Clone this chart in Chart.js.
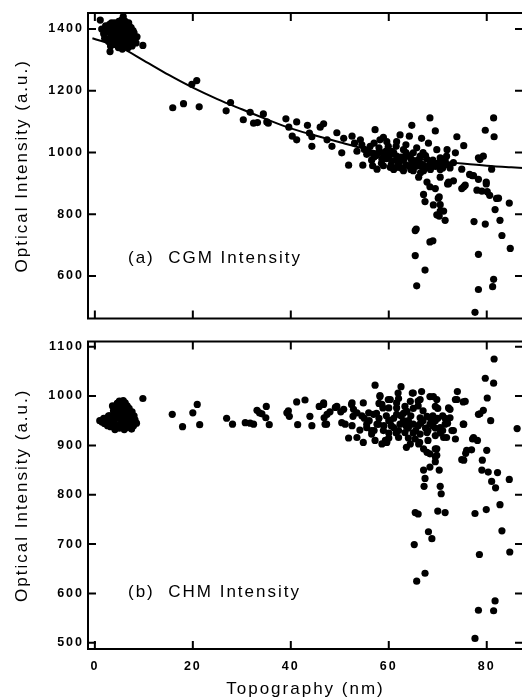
<!DOCTYPE html>
<html><head><meta charset="utf-8">
<script src="https://cdn.jsdelivr.net/npm/chart.js@4.4.1/dist/chart.umd.min.js"></script>
<style>
html,body{margin:0;padding:0;background:#fff;overflow:hidden}
#wrap{position:relative;width:522px;height:700px;overflow:hidden;background:#fff}
canvas{position:absolute;left:0}
#c1{top:0}
#c2{top:330px}
</style></head><body>
<div id="wrap"><canvas id="c1" width="540" height="330"></canvas><canvas id="c2" width="540" height="370"></canvas></div>
<script>
const xTicks = [0, 20, 40, 60, 80];
const topYTicks = [600, 800, 1000, 1200, 1400];
const botYTicks = [500, 600, 700, 800, 900, 1000, 1100];
const xTitle = 'Topography (nm)';
const yTitle = 'Optical Intensity (a.u.)';
const topLabel = '(a)  CGM Intensity';
const botLabel = '(b)  CHM Intensity';

// (a) CGM: dense group near 5 nm
const topClusterX = [1.4,1.8,2.2,2.0,2.6,3.0,3.4,2.8,3.6,4.0,
  4.4,3.8,4.6,5.0,5.4,4.8,5.8,6.2,6.6,6.0,
  7.0,7.4,7.8,8.2,8.6,8.4,7.6,6.8,6.4,5.6,
  5.2,4.2,3.2,2.4,4.6,5.4,6.2,7.0,3.6,4.4,
  5.0,5.8,6.6,7.2,8.0,5.5,5.9,3.9,4.9,6.9,
  2.5,3.2,4.0,4.8,5.6,6.4,7.2,7.8,3.0,4.2,
  5.0,5.8,6.4,4.6,5.4,3.6,2.0,8.0,6.0,5.2,
  4.4,3.4,6.8,7.4];
const topClusterY = [1400,1385,1410,1370,1395,1415,1380,1360,1405,1420,
  1390,1350,1370,1412,1395,1340,1380,1425,1400,1360,
  1410,1385,1395,1370,1375,1355,1350,1340,1345,1335,
  1350,1360,1345,1390,1405,1375,1365,1378,1385,1362,
  1395,1440,1355,1398,1388,1430,1418,1372,1425,1420,
  1405,1398,1400,1395,1400,1385,1365,1380,1370,1375,
  1380,1365,1372,1355,1345,1365,1395,1360,1410,1420,
  1410,1420,1390,1405];
// (a) CGM: other points
const topX = [1.1,3.1,7.6,9.8,15.9,18.1,19.8,20.8,21.3,26.8,
  27.7,30.3,31.7,32.4,34.4,35.1,33.2,35.4,39.0,39.6,
  40.3,41.2,41.2,43.4,43.8,44.3,44.3,46.7,46.0,47.4,
  48.4,49.4,50.8,52.5,50.4,51.8,54.7,56.7,57.2,58.9,
  62.3,64.7,64.2,66.7,68.4,69.5,68.1,73.9,75.3,71.9,
  73.6,78.3,74.9,77.0,75.3,78.0,72.2,70.5,68.4,69.5,
  67.1,67.4,70.1,70.5,70.5,66.1,67.8,63.0,64.0,60.3,
  58.6,61.6,63.0,59.9,56.2,54.5,53.5,55.5,57.9,59.6,
  61.6,65.0,66.4,64.7,67.8,69.1,70.5,71.2,66.4,62.3,
  60.6,58.9,56.9,54.2,58.2,60.6,63.7,65.7,69.8,67.1,
  65.0,61.6,57.6,55.0,56.0,57.0,58.0,59.0,60.0,61.0,
  62.0,63.0,64.0,65.0,66.0,67.0,68.0,69.0,70.0,71.0,
  72.0,60.5,62.5,64.5,66.5,68.5,70.5,58.5,56.5,59.5,
  61.5,63.5,70.3,71.5,71.8,73.2,75.6,74.9,77.3,77.4,
  79.3,79.7,79.9,79.7,78.3,78.3,77.6,81.4,81.5,81.0,
  80.1,81.4,81.2,82.4,82.7,83.1,84.8,84.6,65.4,65.4,
  67.4,65.7,68.4,69.0,69.8,70.3,69.1,72.0,73.2,76.5,
  78.6,79.9,80.6,82.0,65.6,78.3,79.0,81.7,71.2,72.2,
  55.5,57.5,58.5,59.5,60.5,61.5,62.5,63.5,64.5,65.5,
  66.5,67.5,68.5,69.5,70.5,71.5,72.5,61.0,63.5,67.0,
  53.0,57.0];
const topY = [1429,1327,1345,1347,1145,1158,1221,1233,1148,1135,
  1162,1106,1130,1095,1125,1099,1097,1095,1109,1082,
  1053,1099,1041,1088,1063,1020,1051,1093,1082,1041,
  1020,1064,1046,1053,999,959,959,957,1074,1049,
  1057,1088,1053,1046,1112,1070,1030,1051,1022,1009,
  999,983,946,925,889,878,899,920,889,883,
  864,841,852,831,810,920,904,941,957,952,
  978,988,1009,1020,1020,1025,1004,994,999,1035,
  1035,999,988,973,978,962,983,967,957,973,
  973,957,994,1041,1041,1004,988,1015,1009,941,
  941,952,946,1010,1000,985,1015,995,985,1000,
  965,975,990,965,975,960,955,975,965,950,
  960,960,950,945,935,945,945,965,975,1005,
  1020,1025,794,780,988,967,894,883,925,776,
  988,1072,904,768,670,556,482,1112,1051,946,
  873,589,565,852,780,731,689,836,747,666,
  619,568,710,714,798,856,830,898,908,929,
  977,898,861,851,752,913,875,815,810,904,
  1005,990,1000,980,995,975,985,960,980,955,
  965,990,965,955,970,975,950,945,1000,1000,
  1030,1030];
// (a) fitted curve
const fitX = [-0.5,5,10,15,20,25,30,35,40,45,50,55,60,65,70,75,80,85,87.4];
const fitY = [1370,1342,1298,1252,1210,1173,1140,1108,1078,1055,1033,1012,995,982,972,964,957,952,950];

// (b) CHM: dense group near 5 nm
const botClusterX = [1.0,1.5,2.0,2.5,3.0,2.2,3.4,3.8,4.2,4.6,
  5.0,5.4,5.8,6.2,6.6,7.0,7.4,7.8,8.2,8.5,
  4.0,4.5,5.0,5.5,6.0,6.5,7.0,7.5,3.6,4.3,
  4.8,5.3,5.8,6.3,6.8,7.2,3.2,4.1,5.6,6.9,
  7.9,2.8,4.6,6.0,
  3.0,3.8,4.4,5.0,5.6,6.2,6.8,7.4,4.6,5.2,
  6.0,7.6,8.0,1.8,2.6,3.6,5.4,6.4];
const botClusterY = [950,947,944,951,942,955,960,970,980,985,
  990,988,991,986,980,975,965,958,952,945,
  945,940,935,938,932,936,940,933,950,955,
  962,972,968,960,950,955,938,932,955,945,
  940,960,975,948,
  960,945,965,955,975,945,965,948,985,978,
  970,968,960,955,940,980,945,978];
// (b) CHM: other points
const botX = [9.8,15.8,17.9,20.0,20.9,21.4,26.9,28.1,30.7,31.7,
  32.4,33.1,34.1,35.0,34.9,35.6,33.6,39.2,39.7,39.5,
  41.2,41.4,42.9,43.9,44.3,45.8,46.7,46.8,47.3,48.0,
  49.4,50.2,50.4,51.8,52.4,52.7,53.5,54.1,54.8,55.5,
  56.5,57.2,57.6,58.2,58.8,59.3,59.9,60.3,61.6,61.9,
  62.5,63.3,63.6,64.3,64.8,65.2,65.4,65.7,66.0,66.3,
  66.7,67.1,67.4,67.2,67.4,67.8,68.1,68.4,68.8,69.1,
  69.5,69.5,70.0,70.3,70.5,70.7,71.5,71.8,72.5,73.2,
  73.9,74.0,74.9,75.2,75.2,75.7,76.9,77.1,77.6,77.6,
  78.1,78.5,78.3,78.6,79.0,79.1,79.3,79.7,79.9,80.0,
  80.1,80.3,80.8,81.0,81.4,81.5,81.4,81.7,81.8,82.2,
  82.7,83.1,84.6,84.7,86.2,58.2,60.3,58.6,60.0,65.0,
  66.4,68.4,69.8,69.5,73.6,75.6,72.2,46.7,49.1,47.4,
  47.0,50.8,52.5,52.8,51.1,52.5,54.5,55.5,56.5,57.9,
  56.9,58.9,60.0,61.0,61.6,63.7,62.3,63.3,62.0,59.6,
  64.4,65.4,66.4,65.0,66.4,67.8,68.4,69.5,70.5,71.5,
  72.9,71.2,69.5,67.8,66.1,67.1,68.4,69.8,69.8,69.5,
  75.3,77.3,75.9,75.3,78.3,58.6,57.2,53.5,54.8,55.9,
  64.4,61.6,64.0,72.5,73.6,56.0,57.0,58.0,59.0,60.0,
  61.0,62.0,63.0,64.0,65.0,66.0,67.0,68.0,69.0,70.0,
  71.0,72.0,63.0,65.0,67.0,69.0,71.0,62.0,66.0,
  55.0,57.5,59.5,60.5,61.5,62.5,63.5,64.5,65.5,66.5,
  67.5,68.5,69.5,70.5,71.5,60.0,64.0,68.0,58.0,66.0,
  70.0];
const botY = [995,963,938,966,983,942,955,943,946,945,
  943,971,964,979,956,942,966,966,959,970,
  988,942,992,959,940,979,983,956,943,968,
  979,968,946,915,983,959,966,931,906,943,
  930,1022,943,1001,976,910,993,950,976,1006,
  1019,979,896,943,1006,699,764,625,761,906,
  1009,850,833,817,641,886,725,856,711,999,
  877,893,767,850,817,802,764,916,973,930,
  993,1009,871,988,943,884,891,913,762,509,
  910,679,566,964,850,870,971,1036,770,890,
  996,846,950,827,1026,1075,565,585,814,845,
  780,727,831,684,934,999,993,983,976,1006,
  993,999,993,979,993,989,976,986,977,963,
  943,973,986,973,943,940,960,936,923,943,
  963,930,950,936,963,969,943,926,916,906,
  903,913,923,943,956,959,943,950,936,943,
  930,916,920,926,903,893,883,893,880,867,
  943,916,890,870,963,903,910,916,986,966,
  989,986,950,956,913,950,930,955,940,925,
  955,930,950,935,925,940,950,930,940,955,
  930,945,965,975,970,960,960,995,980,
  955,965,960,940,925,960,940,960,930,945,
  935,955,935,925,955,915,915,910,985,990,
  975];

const FONT = 'Arial, "Liberation Sans", Helvetica, sans-serif';
Chart.defaults.font.family = FONT;
Chart.defaults.color = '#000';

function pts(xs, ys) { return xs.map((x, i) => ({ x: x, y: ys[i] })); }

const framePlugin = {
  id: 'frame',
  beforeDraw(chart) { chart.ctx.letterSpacing = '2px'; },
  afterDraw(chart, args, opts) {
    const ctx = chart.ctx, a = chart.chartArea, x = chart.scales.x, y = chart.scales.y;
    ctx.save();
    ctx.strokeStyle = '#000';
    ctx.lineWidth = 2;
    ctx.strokeRect(a.left, a.top, a.right - a.left, a.bottom - a.top);
    const L = 8;
    ctx.beginPath();
    xTicks.forEach(v => {
      const px = x.getPixelForValue(v);
      ctx.moveTo(px, a.top); ctx.lineTo(px, a.top + L);
      ctx.moveTo(px, a.bottom); ctx.lineTo(px, a.bottom - L);
    });
    opts.yTicks.forEach(v => {
      const py = y.getPixelForValue(v);
      ctx.moveTo(a.left, py); ctx.lineTo(a.left + L, py);
      ctx.moveTo(a.right, py); ctx.lineTo(a.right - L, py);
    });
    ctx.stroke();
    ctx.letterSpacing = '2px';
    ctx.font = '17px ' + FONT;
    ctx.fillStyle = '#000';
    ctx.textAlign = 'left';
    ctx.textBaseline = 'alphabetic';
    ctx.fillText(opts.label, a.left + 40, a.top + opts.labelDy);
    ctx.restore();
  }
};

const plainTick = v => String(v);

function yAxis(min, max, ticks) {
  return {
    type: 'linear', position: 'left', min: min, max: max,
    afterBuildTicks: s => { s.ticks = ticks.map(v => ({ value: v })); },
    afterFit: s => { s.width = 88; },
    grid: { display: false, drawTicks: false },
    border: { display: false },
    ticks: { autoSkip: false, padding: 4, color: '#000', callback: plainTick, font: { size: 12.5, weight: 'bold' } },
    title: { display: true, text: yTitle, color: '#000', font: { size: 17 }, padding: { top: 12.5, bottom: 0 } }
  };
}

const scatterStyle = { pointRadius: 3.6, pointHoverRadius: 3.6, pointBorderWidth: 0, backgroundColor: '#000', borderColor: '#000', showLine: false };

new Chart(document.getElementById('c1'), {
  type: 'scatter',
  data: {
    datasets: [
      Object.assign({ label: 'CGM', data: pts(topClusterX.concat(topX), topClusterY.concat(topY)), order: 0 }, scatterStyle),
      { label: 'fit', type: 'line', data: pts(fitX, fitY), showLine: true, pointRadius: 0, borderColor: '#000', borderWidth: 2, fill: false, cubicInterpolationMode: 'monotone', order: 1 }
    ]
  },
  options: {
    responsive: false, animation: false, events: [],
    layout: { padding: { left: 0, top: 13, right: 17, bottom: 3 } },
    plugins: { legend: { display: false }, tooltip: { enabled: false },
      frame: { yTicks: topYTicks, label: topLabel, labelDy: 249.7 } },
    scales: {
      x: { type: 'linear', min: -1.4, max: 87.4, display: false },
      y: yAxis(462, 1452, topYTicks)
    }
  },
  plugins: [framePlugin]
});

new Chart(document.getElementById('c2'), {
  type: 'scatter',
  data: {
    datasets: [
      Object.assign({ label: 'CHM', data: pts(botClusterX.concat(botX), botClusterY.concat(botY)) }, scatterStyle)
    ]
  },
  options: {
    responsive: false, animation: false, events: [],
    layout: { padding: { left: 0, top: 6, right: 17, bottom: 0 } },
    plugins: { legend: { display: false }, tooltip: { enabled: false },
      frame: { yTicks: botYTicks, label: botLabel, labelDy: 255.7 } },
    scales: {
      x: {
        type: 'linear', position: 'bottom', min: -1.4, max: 87.4,
        afterBuildTicks: s => { s.ticks = xTicks.map(v => ({ value: v })); },
        afterFit: s => { s.height = 51; },
        grid: { display: false, drawTicks: false },
        border: { display: false },
        ticks: { autoSkip: false, maxRotation: 0, padding: 10, color: '#000', callback: plainTick, font: { size: 12.5, weight: 'bold' } },
        title: { display: true, text: xTitle, color: '#000', font: { size: 17 }, padding: { top: 0, bottom: 0 } }
      },
      y: yAxis(487.5, 1110.5, botYTicks)
    }
  },
  plugins: [framePlugin]
});
</script>
</body></html>
